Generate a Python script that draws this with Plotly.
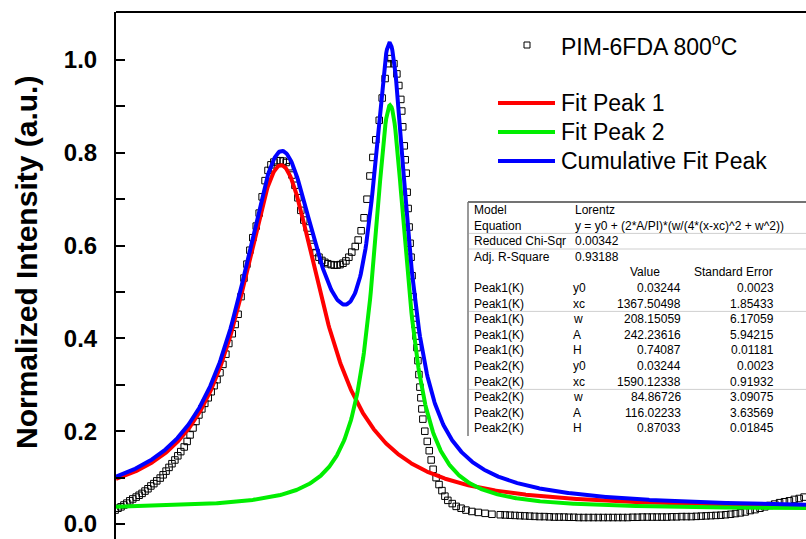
import numpy as np
import plotly.graph_objects as go

# ---------------- data ----------------
raman_shift = [
    1029, 1035, 1041, 1047, 1053, 1059, 1065, 1072, 1078, 1084,
    1090, 1096, 1102, 1108, 1114, 1121, 1127, 1133, 1139, 1145,
    1151, 1157, 1163, 1170, 1176, 1182, 1188, 1194, 1200, 1206,
    1212, 1219, 1225, 1231, 1237, 1243, 1249, 1255, 1261, 1268,
    1274, 1280, 1286, 1292, 1298, 1304, 1310, 1317, 1323, 1329,
    1335, 1341, 1347, 1353, 1359, 1366, 1372, 1378, 1384, 1390,
    1396, 1402, 1408, 1414, 1421, 1427, 1433, 1439, 1445, 1451,
    1457, 1463, 1470, 1476, 1482, 1488, 1494, 1500, 1506, 1512,
    1519, 1525, 1531, 1537, 1543, 1549, 1555, 1561, 1568, 1574,
    1580, 1586, 1592, 1598, 1604, 1608, 1612, 1614, 1616, 1619,
    1621, 1623, 1625, 1627, 1629, 1631, 1633, 1635, 1637, 1639,
    1641, 1643, 1645, 1647, 1649, 1651, 1653, 1655, 1657, 1661,
    1666, 1670, 1674, 1678, 1684, 1690, 1696, 1702, 1708, 1717,
    1725, 1735, 1745, 1757, 1770, 1784, 1798,
    1815, 1825, 1835, 1845, 1855, 1865, 1875, 1885, 1895, 1905,
    1915, 1925, 1935, 1945, 1955, 1965, 1975, 1985, 1995, 2005,
    2015, 2025, 2035, 2045, 2055, 2065, 2075, 2085, 2095, 2105,
    2115, 2125, 2135, 2145, 2155, 2165, 2175, 2185, 2195, 2205,
    2215, 2225, 2235, 2245, 2255, 2265, 2275, 2285, 2295, 2305,
    2315, 2325, 2335, 2345, 2355, 2365, 2375, 2385, 2395, 2405,
    2415, 2425, 2435,
]
norm_intensity = [
    0.030, 0.034, 0.037, 0.041, 0.045, 0.050, 0.054, 0.058, 0.062, 0.066,
    0.071, 0.076, 0.082, 0.087, 0.093, 0.099, 0.106, 0.114, 0.122, 0.130,
    0.138, 0.147, 0.156, 0.166, 0.178, 0.192, 0.207, 0.221, 0.235, 0.248,
    0.260, 0.272, 0.285, 0.298, 0.311, 0.326, 0.344, 0.366, 0.389, 0.410,
    0.430, 0.452, 0.490, 0.530, 0.560, 0.590, 0.617, 0.642, 0.670, 0.705,
    0.740, 0.762, 0.774, 0.780, 0.783, 0.783, 0.782, 0.779, 0.770, 0.752,
    0.730, 0.703, 0.676, 0.655, 0.638, 0.617, 0.598, 0.585, 0.575, 0.568,
    0.564, 0.561, 0.559, 0.558, 0.558, 0.559, 0.562, 0.567, 0.575, 0.586,
    0.598, 0.612, 0.632, 0.660, 0.700, 0.750, 0.790, 0.828, 0.870, 0.918,
    0.960, 0.992, 1.003, 0.992, 0.970, 0.945, 0.915, 0.890, 0.856, 0.815,
    0.785, 0.756, 0.715, 0.680, 0.640, 0.605, 0.575, 0.535, 0.490, 0.455,
    0.430, 0.405, 0.380, 0.352, 0.322, 0.295, 0.272, 0.248, 0.226, 0.200,
    0.178, 0.158, 0.138, 0.118, 0.100, 0.085, 0.072, 0.060, 0.051, 0.044,
    0.038, 0.034, 0.030, 0.027, 0.025, 0.023, 0.021,
    0.020, 0.0195, 0.019, 0.0185, 0.018, 0.0175, 0.017, 0.0165, 0.016, 0.016,
    0.0155, 0.015, 0.015, 0.015, 0.0145, 0.0145, 0.014, 0.014, 0.014, 0.014,
    0.014, 0.014, 0.014, 0.014, 0.014, 0.014, 0.014, 0.0145, 0.0145, 0.015,
    0.015, 0.015, 0.015, 0.015, 0.015, 0.0155, 0.0155, 0.016, 0.016, 0.016,
    0.0165, 0.017, 0.0175, 0.018, 0.0185, 0.019, 0.020, 0.021, 0.0225, 0.024,
    0.026, 0.029, 0.031, 0.034, 0.037, 0.040, 0.043, 0.046, 0.048, 0.050,
    0.053, 0.055, 0.058,
]

# Lorentz fit parameters (as printed in the table)
fit_y0 = 0.03244
peak_xc = [1367.50498, 1590.12338]
peak_w = [208.15059, 84.86726]
peak_A = [242.23616, 116.02233]
peak_names = ["Fit Peak 1", "Fit Peak 2"]
peak_colors = ["#FF0000", "#00EE00"]
cum_name = "Cumulative Fit Peak"
cum_color = "#0000FF"
data_name = "PIM-6FDA 800<sup>o</sup>C"

y_ticks = [0.0, 0.2, 0.4, 0.6, 0.8, 1.0]
y_minor = [0.1, 0.3, 0.5, 0.7, 0.9]

table_head = [
    ["Model", "Lorentz"],
    ["Equation", "y = y0 + (2*A/PI)*(w/(4*(x-xc)^2 + w^2))"],
    ["Reduced Chi-Sqr", "0.00342"],
    ["Adj. R-Square", "0.93188"],
]
table_cols = ["Value", "Standard Error"]
table_rows = [
    ["Peak1(K)", "y0", "0.03244", "0.0023"],
    ["Peak1(K)", "xc", "1367.50498", "1.85433"],
    ["Peak1(K)", "w", "208.15059", "6.17059"],
    ["Peak1(K)", "A", "242.23616", "5.94215"],
    ["Peak1(K)", "H", "0.74087", "0.01181"],
    ["Peak2(K)", "y0", "0.03244", "0.0023"],
    ["Peak2(K)", "xc", "1590.12338", "0.91932"],
    ["Peak2(K)", "w", "84.86726", "3.09075"],
    ["Peak2(K)", "A", "116.02233", "3.63569"],
    ["Peak2(K)", "H", "0.87033", "0.01845"],
]

# ---------------- figure geometry ----------------
W, H = 806, 539
ML, MT = 116, 12
PW, PH = W - ML, H - MT
X_RANGE = [1030.8, 2438.9]
Y_RANGE = [-0.0323, 1.1034]
FONT = "Arial, Liberation Sans, Helvetica, sans-serif"


def px(x):
    return (x - ML) / PW


def py(y):
    return 1 - (y - MT) / PH


fit_x = np.linspace(X_RANGE[0], X_RANGE[1], 900)


def lorentz(x, xc, w, A):
    return (2 * A / np.pi) * (w / (4 * (x - xc) ** 2 + w ** 2))


fig = go.Figure()
fig.add_trace(go.Scatter(
    x=raman_shift, y=norm_intensity, mode="markers", name="PIM-6FDA 800°C",
    marker=dict(symbol="square-open", size=6.5, color="black",
                line=dict(width=1, color="black")),
    showlegend=False, cliponaxis=True,
))
cum = np.full_like(fit_x, fit_y0)
for xc, w, A, nm, col in zip(peak_xc, peak_w, peak_A, peak_names, peak_colors):
    comp = lorentz(fit_x, xc, w, A)
    cum = cum + comp
    fig.add_trace(go.Scatter(x=fit_x, y=fit_y0 + comp, mode="lines", name=nm,
                             line=dict(color=col, width=4), showlegend=False))
fig.add_trace(go.Scatter(x=fit_x, y=cum, mode="lines", name=cum_name,
                         line=dict(color=cum_color, width=4), showlegend=False))

shapes = []
annotations = []

# top frame line
shapes.append(dict(type="line", xref="paper", yref="paper", x0=0, x1=1, y0=1, y1=1,
                   line=dict(color="black", width=2)))

# y title
annotations.append(dict(text="<b>Normalized Intensity (a.u.)</b>", xref="paper", yref="paper",
                        x=px(26), y=py(263), textangle=-90, showarrow=False,
                        xanchor="center", yanchor="middle",
                        font=dict(family=FONT, size=30, color="black")))

# legend (drawn manually to match the layout)
leg_font = dict(family=FONT, size=23, color="black")
shapes.append(dict(type="rect", xref="paper", yref="paper",
                   x0=px(524), x1=px(530), y0=py(48), y1=py(42),
                   line=dict(color="black", width=1)))
annotations.append(dict(text=data_name, xref="paper", yref="paper", x=px(559), y=py(45),
                        xanchor="left", yanchor="middle", showarrow=False, font=leg_font))
for nm, col, yy in zip(peak_names + [cum_name], peak_colors + [cum_color], [103, 132, 161]):
    shapes.append(dict(type="line", xref="paper", yref="paper",
                       x0=px(498), x1=px(555), y0=py(yy), y1=py(yy),
                       line=dict(color=col, width=4)))
    annotations.append(dict(text=nm, xref="paper", yref="paper", x=px(559), y=py(yy),
                            xanchor="left", yanchor="middle", showarrow=False, font=leg_font))

# results table
tfont = dict(family=FONT, size=12, color="black")
ROW0, DROW = 210, 15.6
shapes.append(dict(type="line", xref="paper", yref="paper", x0=px(468), x1=px(806),
                   y0=py(202), y1=py(202), line=dict(color="#444444", width=1.5)))
shapes.append(dict(type="line", xref="paper", yref="paper", x0=px(468), x1=px(468),
                   y0=py(202), y1=py(436), line=dict(color="#777777", width=1.5)))
for k in [1, 2, 6, 11]:
    ysep = ROW0 + (k + 0.5) * DROW
    shapes.append(dict(type="line", xref="paper", yref="paper", x0=px(469), x1=px(806),
                       y0=py(ysep), y1=py(ysep), line=dict(color="#cfcfcf", width=1)))


def cell(text, x, y, anchor):
    annotations.append(dict(text=text, xref="paper", yref="paper", x=px(x), y=py(y),
                            xanchor=anchor, yanchor="middle", showarrow=False, font=tfont))


for i, (a, b) in enumerate(table_head):
    yy = ROW0 + i * DROW
    cell(a, 472, yy, "left")
    cell(b, 573, yy, "left")
yy = ROW0 + 4 * DROW
cell(table_cols[0], 645, yy, "center")
cell(table_cols[1], 692, yy, "left")
for j, (a, b, c, d) in enumerate(table_rows):
    yy = ROW0 + (5 + j) * DROW
    cell(a, 472, yy, "left")
    cell(b, 571, yy, "left")
    cell(c, 683, yy, "right")
    cell(d, 776, yy, "right")

fig.update_layout(
    width=W, height=H,
    margin=dict(l=ML, r=0, t=MT, b=0, pad=0),
    paper_bgcolor="white", plot_bgcolor="white",
    showlegend=False,
    shapes=shapes, annotations=annotations,
    xaxis=dict(range=X_RANGE, visible=False, showgrid=False, zeroline=False),
    yaxis=dict(range=Y_RANGE, showline=True, linecolor="black", linewidth=2,
               showgrid=False, zeroline=False,
               tickvals=y_ticks, ticktext=[f"{v:.1f}" for v in y_ticks],
               ticks="inside", ticklen=9, tickwidth=2, tickcolor="black",
               ticklabelstandoff=12,
               tickfont=dict(family=FONT, size=24, color="black", weight="bold"),
               minor=dict(tickvals=y_minor, ticks="inside", ticklen=9, tickwidth=2,
                          tickcolor="black")),
)

fig.write_html("out.html")
